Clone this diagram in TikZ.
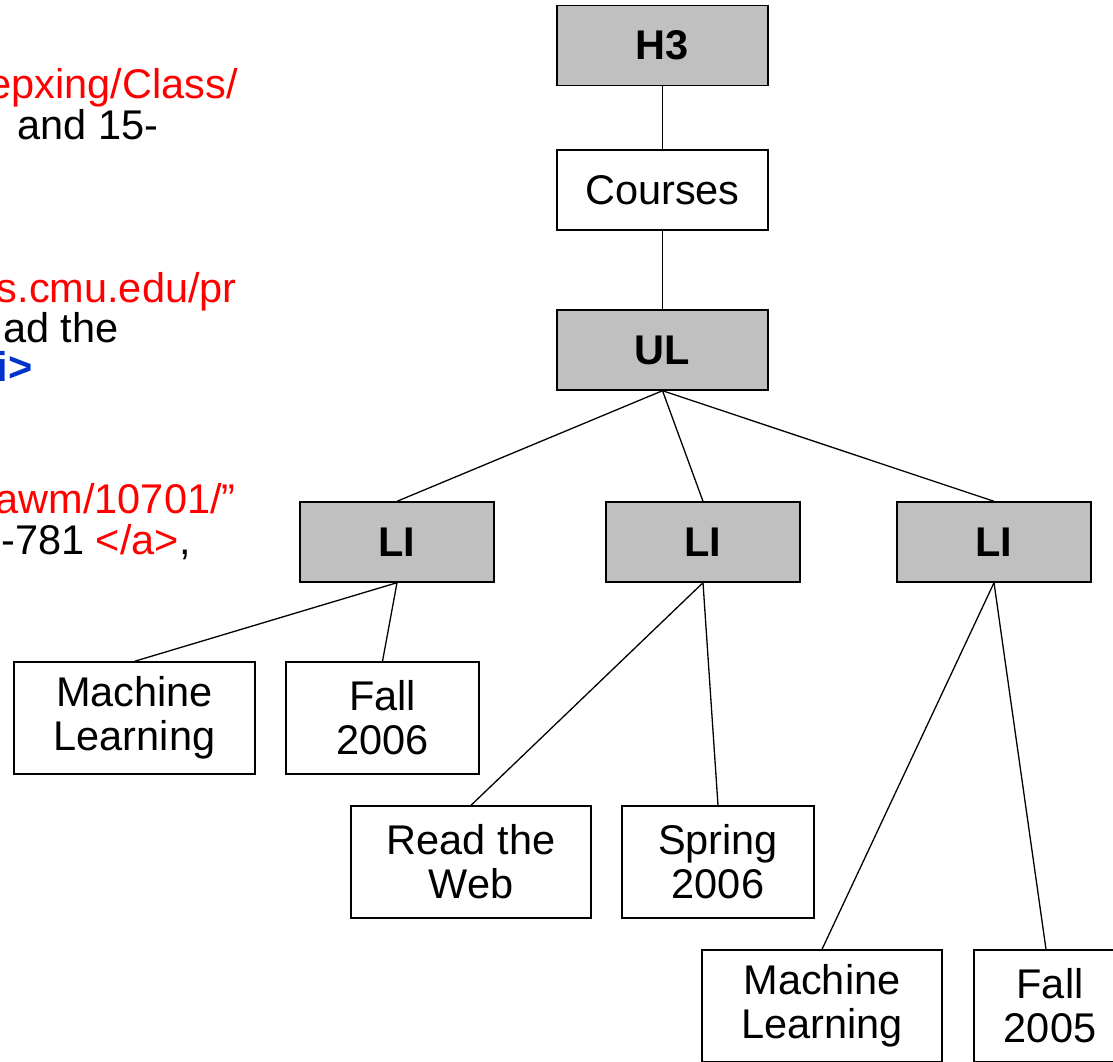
\documentclass[tikz,border=0pt]{standalone}
\usepackage{fontspec}
\setmainfont{Liberation Sans}
\definecolor{tagfill}{HTML}{C0C0C0}
\definecolor{linkred}{HTML}{FF0000}
\definecolor{tagblue}{HTML}{0033CC}
\newcommand{\slidefont}{\fontsize{20.75pt}{22pt}\selectfont}
\tikzset{
  databox/.style={draw=black,line width=0.7pt,inner sep=0pt,align=center,font=\slidefont},
  tagbox/.style={databox,fill=tagfill,font=\slidefont\bfseries,minimum height=40pt},
  srcline/.style={inner sep=0pt,font=\slidefont}
}
\begin{document}
\begin{tikzpicture}[x=0.5pt,y=-0.5pt]
  \useasboundingbox (0,0) rectangle (1113,1061);
  \begin{scope}
  \clip (0,0) rectangle (1113,1061);

  % Source text cut off at the left
  \node[srcline,anchor=base east,text=linkred] (src1) at (238,98) {epxing/Class/};
  \node[srcline,anchor=base west] (src2) at (17,139) {and 15-};
  \node[srcline,anchor=base east,text=linkred] (src3) at (237,302) {s.cmu.edu/pr};
  \node[srcline,anchor=base east] (src4) at (119,342) {ad the};
  \node[srcline,anchor=base east,text=tagblue,font=\slidefont\bfseries] (src5) at (33,381) {i>};
  \node[srcline,anchor=base east,text=linkred] (src6) at (236,513) {awm/10701/"};
  \node[srcline,anchor=base west] (src7) at (1,554) {-781 \textcolor{linkred}{</a>},};

  % DOM tree
  \node[tagbox,minimum width=105.5pt] (h3) at (662.5,45.5) {H3};
  \node[databox,minimum width=105.5pt,minimum height=40pt] (courses) at (662.5,190) {Courses};
  \node[tagbox,minimum width=105.5pt] (ul) at (662.5,350) {UL};
  \node[tagbox,minimum width=97pt] (li1) at (397,542) {LI};
  \node[tagbox,minimum width=97pt] (li2) at (703,542) {LI};
  \node[tagbox,minimum width=97pt] (li3) at (994,542) {LI};

  \node[databox,minimum width=120.5pt,minimum height=56pt] (ml1) at (134.5,718) {Machine\\Learning};
  \node[databox,minimum width=96.5pt,minimum height=56pt] (fall06) at (382.5,718) {Fall\\2006};
  \node[databox,minimum width=120pt,minimum height=56pt] (rtw) at (471,862) {Read the\\Web};
  \node[databox,minimum width=96pt,minimum height=56pt] (spr06) at (718,862) {Spring\\2006};
  \node[databox,minimum width=120pt,minimum height=56pt] (ml2) at (822,1006) {Machine\\Learning};
  \node[databox,minimum width=76pt,minimum height=56pt] (fall05) at (1050,1006) {Fall\\2005};

  % Edges
  \draw[line width=0.65pt] (h3.south) -- (courses.north);
  \draw[line width=0.65pt] (courses.south) -- (ul.north);
  \foreach \li in {li1,li2,li3}
    \draw[line width=0.65pt] (ul.south) -- (\li.north);
  \draw[line width=0.65pt] (li1.south) -- (ml1.north);
  \draw[line width=0.65pt] (li1.south) -- (fall06.north);
  \draw[line width=0.65pt] (li2.south) -- (rtw.north);
  \draw[line width=0.65pt] (li2.south) -- (spr06.north);
  \draw[line width=0.65pt] (li3.south) -- (ml2.north);
  \draw[line width=0.65pt] (li3.south) -- ([xshift=-2pt]fall05.north);
  \end{scope}
\end{tikzpicture}
\end{document}
